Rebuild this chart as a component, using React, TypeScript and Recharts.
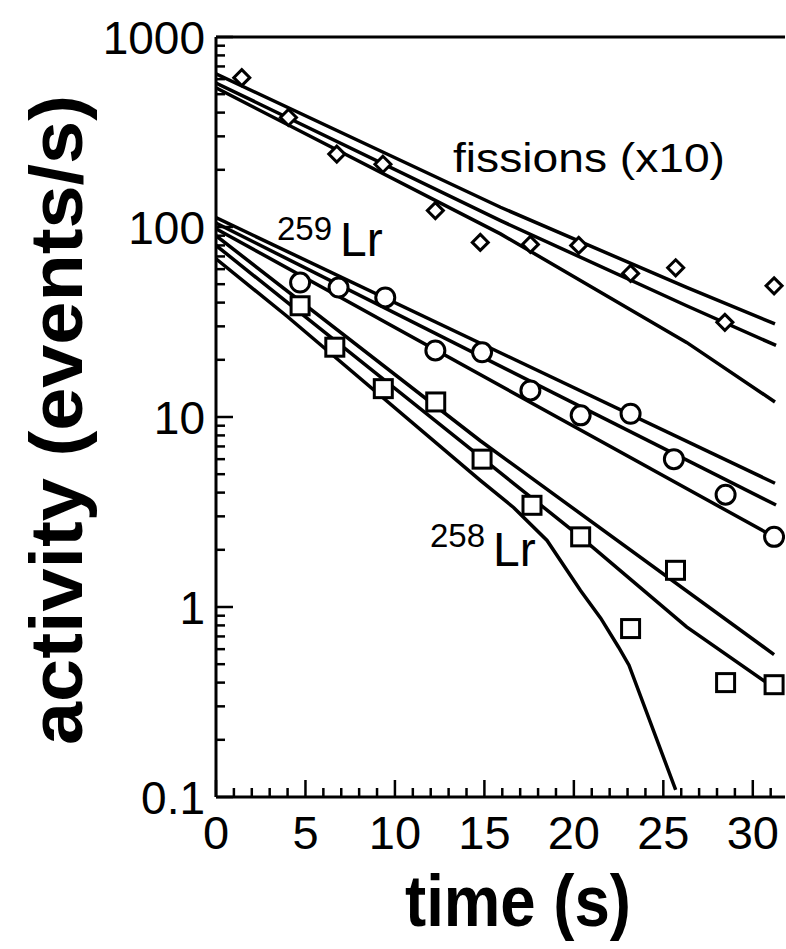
import React from "react";
import {
  ComposedChart,
  Line,
  Scatter,
  XAxis,
  YAxis,
  ReferenceLine,
} from "recharts";

// measured points (time in s, activity in events/s)
const fissionT = [1.44, 4.05, 6.75, 9.33, 12.26, 14.77, 17.57, 20.27, 23.17, 25.69, 28.44, 31.19];
const fissionA = [611, 377, 242, 214, 122, 83, 81, 80, 57, 61, 31.5, 49];

const lr259T = [4.7, 6.85, 9.46, 12.26, 14.87, 17.57, 20.38, 23.17, 25.59, 28.48, 31.19];
const lr259A = [51, 48, 42.6, 22.4, 21.9, 13.8, 10.2, 10.4, 6.0, 3.9, 2.34];

const lr258T = [4.7, 6.64, 9.35, 12.28, 14.87, 17.66, 20.38, 23.17, 25.68, 28.48, 31.19];
const lr258A = [38.5, 23.3, 14.1, 12.0, 6.0, 3.43, 2.34, 0.77, 1.56, 0.4, 0.39];

// fitted curves
const fitF1T = [0, 15.9, 26.3, 31.24];
const fitF1A = [640, 127, 48.1, 30.9];
const fitF2T = [0, 15.9, 26.3, 31.3];
const fitF2A = [573, 108, 38.5, 23.8];
const fitF3T = [0, 15.9, 26.3, 31.24];
const fitF3A = [540, 92, 24.7, 12.0];

const fitC1T = [0, 31.24];
const fitC1A = [112, 4.48];
const fitC2T = [0, 31.3];
const fitC2A = [105, 3.44];
const fitC3T = [0, 31.19];
const fitC3A = [98, 2.34];

const fitS1T = [0, 14.77, 31.19];
const fitS1A = [90, 7.5, 0.562];
const fitS2T = [0, 20.37, 26.3, 31.11];
const fitS2A = [80, 2.34, 0.786, 0.38];
const fitS3T = [0, 4.0, 14.77, 16.63, 18.5, 20.37, 21.5, 22.5, 23.08, 25.69];
const fitS3A = [68, 33.7, 4.64, 3.34, 2.24, 1.22, 0.873, 0.614, 0.494, 0.109];

// axes
const xTicks = [0, 1, 2, 3, 4, 5, 6, 7, 8, 9, 10, 11, 12, 13, 14, 15, 16, 17, 18, 19, 20, 21, 22, 23, 24, 25, 26, 27, 28, 29, 30, 31];
const xLabels = [0, 5, 10, 15, 20, 25, 30];
const yTicks = [
  0.1, 0.2, 0.3, 0.4, 0.5, 0.6, 0.7, 0.8, 0.9,
  1, 2, 3, 4, 5, 6, 7, 8, 9,
  10, 20, 30, 40, 50, 60, 70, 80, 90,
  100, 200, 300, 400, 500, 600, 700, 800, 900, 1000,
];
const yLabels = ["0.1", "1", "10", "100", "1000"];

const FONT = "'Liberation Sans', Arial, Helvetica, sans-serif";

const pts = (t: number[], a: number[]) => t.map((x, i) => ({ x, y: a[i] }));

const XTick = ({ x, y, payload }: any) => {
  const major = xLabels.includes(payload.value);
  return (
    <g>
      <line x1={x} x2={x} y1={y} y2={y - (major ? 17 : 9)} stroke="#000" strokeWidth={2.5} />
      {major && (
        <text x={x} y={y + 52} textAnchor="middle" fontSize={47} fontFamily={FONT} fill="#000">
          {payload.value}
        </text>
      )}
    </g>
  );
};

const YTick = ({ x, y, payload }: any) => {
  const label = yLabels.find((l) => Math.abs(parseFloat(l) - payload.value) < 1e-9);
  return (
    <g>
      <line x1={x} x2={x + (label ? 17 : 9)} y1={y} y2={y} stroke="#000" strokeWidth={2.5} />
      {label && (
        <text x={x - 11} y={y + 17} textAnchor="end" fontSize={46} fontFamily={FONT} fill="#000">
          {label}
        </text>
      )}
    </g>
  );
};

const Diamond = ({ cx, cy }: any) => (
  <path
    d={`M${cx},${cy - 8} L${cx + 8},${cy} L${cx},${cy + 8} L${cx - 8},${cy} Z`}
    fill="#fff"
    stroke="#000"
    strokeWidth={3}
  />
);

const Circle = ({ cx, cy }: any) => (
  <circle cx={cx} cy={cy} r={9.5} fill="#fff" stroke="#000" strokeWidth={3} />
);

const Square = ({ cx, cy }: any) => (
  <rect x={cx - 9} y={cy - 9} width={18} height={18} fill="#fff" stroke="#000" strokeWidth={3} />
);

const fits = [
  pts(fitF1T, fitF1A),
  pts(fitF2T, fitF2A),
  pts(fitF3T, fitF3A),
  pts(fitC1T, fitC1A),
  pts(fitC2T, fitC2A),
  pts(fitC3T, fitC3A),
  pts(fitS1T, fitS1A),
  pts(fitS2T, fitS2A),
  pts(fitS3T, fitS3A),
];

export default function App() {
  return (
    <div style={{ position: "absolute", left: 0, top: 0, width: 786, height: 949, background: "#fff" }}>
      <ComposedChart
        width={786}
        height={949}
        margin={{ top: 37, right: 1, bottom: 92, left: 156 }}
      >
        <XAxis
          type="number"
          dataKey="x"
          domain={[0, 31.8]}
          ticks={xTicks}
          interval={0}
          tick={<XTick />}
          tickLine={false}
          tickSize={0}
          tickMargin={0}
          height={60}
          allowDataOverflow
          axisLine={{ stroke: "#000", strokeWidth: 3 }}
        />
        <YAxis
          type="number"
          dataKey="y"
          scale="log"
          domain={[0.1, 1000]}
          ticks={yTicks}
          interval={0}
          tick={<YTick />}
          tickLine={false}
          tickSize={0}
          tickMargin={0}
          width={60}
          allowDataOverflow
          axisLine={{ stroke: "#000", strokeWidth: 3 }}
        />
        <ReferenceLine y={1000} stroke="#000" strokeWidth={3} ifOverflow="visible" />
        {fits.map((d, i) => (
          <Line
            key={`fit-${i}`}
            data={d}
            dataKey="y"
            type="linear"
            stroke="#000"
            strokeWidth={3.5}
            dot={false}
            activeDot={false}
            isAnimationActive={false}
          />
        ))}
        <Scatter data={pts(fissionT, fissionA)} shape={<Diamond />} isAnimationActive={false} />
        <Scatter data={pts(lr259T, lr259A)} shape={<Circle />} isAnimationActive={false} />
        <Scatter data={pts(lr258T, lr258A)} shape={<Square />} isAnimationActive={false} />
      </ComposedChart>

      <svg
        width={786}
        height={949}
        style={{ position: "absolute", left: 0, top: 0, pointerEvents: "none" }}
        fontFamily={FONT}
      >
        <text x={453} y={172} fontSize={40} textLength={272} lengthAdjust="spacingAndGlyphs">
          fissions (x10)
        </text>
        <text x={277} y={240} fontSize={33}>259</text>
        <text x={340} y={256} fontSize={48}>Lr</text>
        <text x={430} y={547} fontSize={33}>258</text>
        <text x={493} y={566} fontSize={48}>Lr</text>
        <text
          transform="translate(82,420) rotate(-90)"
          textAnchor="middle"
          fontSize={74}
          fontWeight="bold"
          textLength={650}
          lengthAdjust="spacingAndGlyphs"
        >
          activity (events/s)
        </text>
        <text
          x={518}
          y={926}
          textAnchor="middle"
          fontSize={72}
          fontWeight="bold"
          textLength={226}
          lengthAdjust="spacingAndGlyphs"
        >
          time (s)
        </text>
      </svg>
    </div>
  );
}
